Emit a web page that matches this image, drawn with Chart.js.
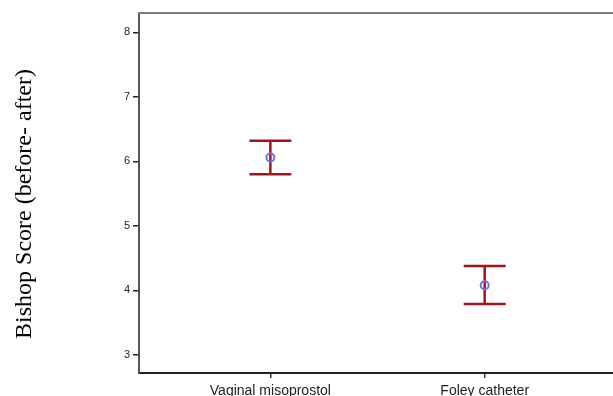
<!DOCTYPE html>
<html>
<head>
<meta charset="utf-8">
<script src="https://cdn.jsdelivr.net/npm/chart.js@4/dist/chart.umd.min.js"></script>
<style>
  html, body { margin: 0; padding: 0; background: #fff; overflow: hidden; }
  #wrap { width: 613px; height: 396px; overflow: hidden; }
</style>
</head>
<body>
<div id="wrap"><canvas id="chart" width="630" height="396"></canvas></div>
<script>
// groups and their mean +/- error bars (Bishop score change)
const groups = ['Vaginal misoprostol', 'Foley catheter'];
const means = [6.06, 4.08];
const lowerBars = [5.80, 3.79];
const upperBars = [6.32, 4.38];
const yTicks = [3, 4, 5, 6, 7, 8];
const yTitle = 'Bishop Score (before- after)';

const barColor = '#a3141d';
const meanColor = '#6c6cf5';

const errorBars = {
    id: 'errorBars',
    beforeDatasetsDraw(chart) {
        const ctx = chart.ctx;
        const xs = chart.scales.x;
        const ys = chart.scales.y;
        ctx.save();
        ctx.strokeStyle = barColor;
        ctx.lineWidth = 2.5;
        groups.forEach((g, i) => {
            const x = xs.getPixelForValue(i + 1);
            const lo = ys.getPixelForValue(lowerBars[i]);
            const hi = ys.getPixelForValue(upperBars[i]);
            ctx.beginPath();
            ctx.moveTo(x, lo);
            ctx.lineTo(x, hi);
            ctx.moveTo(x - 21, lo);
            ctx.lineTo(x + 21, lo);
            ctx.moveTo(x - 21, hi);
            ctx.lineTo(x + 21, hi);
            ctx.stroke();
        });
        ctx.restore();
    },
    afterDraw(chart) {
        const ctx = chart.ctx;
        const area = chart.chartArea;
        ctx.save();
        // top frame line
        ctx.strokeStyle = '#7a7a7a';
        ctx.lineWidth = 2;
        ctx.beginPath();
        ctx.moveTo(area.left - 1, area.top);
        ctx.lineTo(area.right, area.top);
        ctx.stroke();
        // y axis title, serif like the original
        ctx.translate(25, 204);
        ctx.rotate(-Math.PI / 2);
        ctx.fillStyle = '#000';
        ctx.font = '24px "Liberation Serif", "Times New Roman", serif';
        ctx.textAlign = 'center';
        ctx.textBaseline = 'middle';
        ctx.fillText(yTitle, 0, 0);
        ctx.restore();
    }
};

new Chart(document.getElementById('chart'), {
    type: 'scatter',
    data: {
        datasets: [{
            label: 'Mean',
            data: groups.map((g, i) => ({ x: i + 1, y: means[i] })),
            pointStyle: 'circle',
            pointRadius: 4,
            pointHoverRadius: 4,
            borderColor: meanColor,
            backgroundColor: 'rgba(0,0,0,0)',
            borderWidth: 2
        }]
    },
    options: {
        responsive: false,
        animation: false,
        events: [],
        layout: { padding: { top: 13, right: 0, bottom: 0, left: 0 } },
        plugins: {
            legend: { display: false },
            tooltip: { enabled: false }
        },
        scales: {
            x: {
                type: 'linear',
                min: 0.387,
                max: 2.65,
                afterFit: scale => { scale.height = 23; },
                afterBuildTicks: scale => { scale.ticks = groups.map((g, i) => ({ value: i + 1 })); },
                ticks: {
                    autoSkip: false,
                    maxRotation: 0,
                    padding: 5,
                    color: '#222',
                    font: { family: 'Arial, "Liberation Sans", sans-serif', size: 14 },
                    callback: value => groups[value - 1] || ''
                },
                grid: {
                    drawOnChartArea: false,
                    drawTicks: true,
                    tickLength: 5,
                    color: '#333',
                    lineWidth: 1.5
                },
                border: { display: true, color: '#222', width: 2 }
            },
            y: {
                min: 2.72,
                max: 8.3,
                afterFit: scale => { scale.width = 139; },
                afterBuildTicks: scale => { scale.ticks = yTicks.map(v => ({ value: v })); },
                ticks: {
                    padding: 3,
                    color: '#222',
                    font: { family: 'Arial, "Liberation Sans", sans-serif', size: 11 }
                },
                grid: {
                    drawOnChartArea: false,
                    drawTicks: true,
                    tickLength: 6,
                    color: '#222',
                    lineWidth: 1.5
                },
                border: { display: true, color: '#555', width: 2 }
            }
        }
    },
    plugins: [errorBars]
});
</script>
</body>
</html>
